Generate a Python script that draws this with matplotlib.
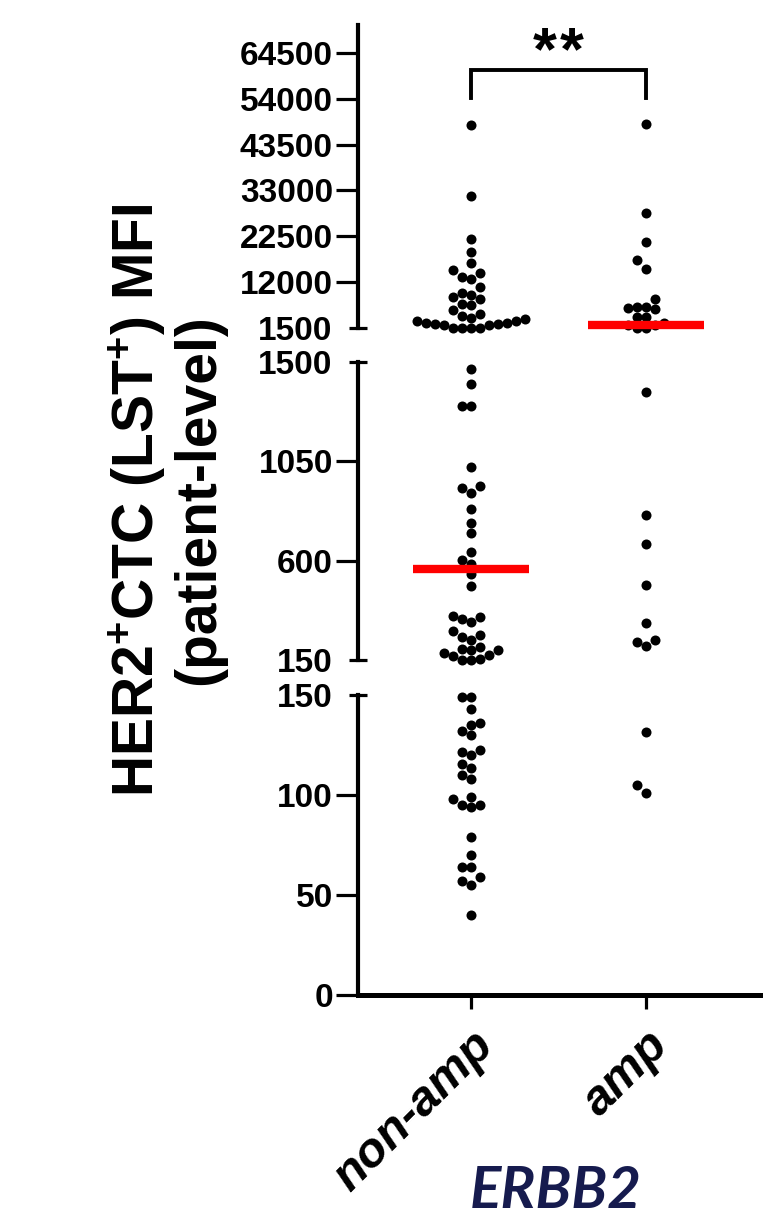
import numpy as np
import matplotlib
matplotlib.use("Agg")
import matplotlib.pyplot as plt
import matplotlib.transforms as mtrans

# ---------------- data ----------------
groups = ["non-amp", "amp"]

non_amp = [
    # upper segment (>1500)
    48000, 31700, 21900, 19000, 16500, 14700, 14200, 13200, 12700, 10800,
    9600, 9000, 8600, 8100, 7100, 6700, 5600, 4700, 4200, 3900, 3500, 3200,
    3100, 2700, 2600, 2500, 2350, 2250, 2100, 1600, 1580, 1560, 1540,
    # middle segment (150-1500)
    1470, 1400, 1300, 1300, 1025, 940, 928, 908, 833, 771, 724, 638, 602,
    585, 540, 485, 351, 346, 334, 322, 281, 263, 253, 242, 210, 198, 195,
    195, 183, 173, 170, 155, 152, 151,
    # lower segment (0-150)
    149, 149, 143, 136, 135, 132, 130, 122.5, 121.7, 120, 115.5, 113.5, 110,
    108, 99, 98, 95, 95, 94, 79, 70, 64, 64, 59, 57, 55, 40,
]

amp = [
    48200, 27900, 21100, 17100, 15000, 8070, 6380, 6380, 6010, 5780, 4090,
    3950, 2710, 2190, 2190, 1530, 1510,
    1365, 808, 677, 490, 318, 241, 230, 215,
    131.5, 105, 101,
]

top_ticks = [12000, 22500, 33000, 43500, 54000, 64500]
mid_ticks = [600, 1050]
bot_ticks = [0, 50, 100]
significance = "**"

# ---------------- layout ----------------
W, H = 775, 1219
plt.rcParams["font.family"] = ["Liberation Sans", "DejaVu Sans"]
plt.rcParams["font.weight"] = "bold"
plt.rcParams["mathtext.fontset"] = "custom"
plt.rcParams["mathtext.rm"] = "Liberation Sans:bold"
plt.rcParams["mathtext.bf"] = "Liberation Sans:bold"
plt.rcParams["mathtext.it"] = "Liberation Sans:bold:italic"

fig = plt.figure(figsize=(W / 100, H / 100), dpi=100)
fig.patch.set_facecolor("white")

AX_L, AX_R = 358, 760


def px_axes(top_px, bottom_px):
    return [AX_L / W, (H - bottom_px) / H, (AX_R - AX_L) / W, (bottom_px - top_px) / H]


ax_top = fig.add_axes(px_axes(25, 328))
ax_mid = fig.add_axes(px_axes(362, 660))
ax_bot = fig.add_axes(px_axes(695, 995))

top_lim = (1500, 1500 + (328 - 25) / (328 - 53) * (64500 - 1500))
segments = [
    (ax_top, top_lim, lambda v: v > 1500, top_ticks, [1500]),
    (ax_mid, (150, 1500), lambda v: 150 < v <= 1500, mid_ticks, [150, 1500]),
    (ax_bot, (0, 150), lambda v: v <= 150, bot_ticks, [150]),
]

XLIM = (-0.645, 1.65)
SPINE_W = 3.0
TICK_W = 2.3


def swarm_x(ax, xc, vals, step_px=9.0, min_dy=9.5):
    vals = np.asarray(vals, float)
    if len(vals) == 0:
        return vals
    pts = ax.transData.transform(np.column_stack([np.full(len(vals), xc), vals]))
    ys = pts[:, 1]
    order = np.argsort(ys)
    placed = []
    cols = np.zeros(len(vals))
    seq = [0]
    for k in range(1, 30):
        seq += [-k, k]
    for i in order:
        for k in seq:
            if all(not (c == k and abs(y - ys[i]) < min_dy) for c, y in placed):
                break
        placed.append((k, ys[i]))
        cols[i] = k
    xpx = pts[:, 0] + cols * step_px
    return ax.transData.inverted().transform(np.column_stack([xpx, ys]))[:, 0]


for ax, lim, sel, majors, minors in segments:
    ax.set_xlim(*XLIM)
    ax.set_ylim(*lim)
    ax.set_facecolor("none")
    for s in ["top", "right"]:
        ax.spines[s].set_visible(False)
    ax.spines["left"].set_linewidth(SPINE_W)
    if ax is not ax_bot:
        ax.spines["bottom"].set_visible(False)
        ax.tick_params(axis="x", bottom=False, labelbottom=False)
    else:
        ax.spines["bottom"].set_linewidth(SPINE_W + 0.6)
    ax.set_yticks(majors, labels=[str(t) for t in majors])
    ax.set_yticks(minors, labels=[str(t) for t in minors], minor=True)
    ax.tick_params(axis="y", which="major", direction="out", length=16,
                   width=TICK_W, labelsize=24, pad=2)
    ax.tick_params(axis="y", which="minor", direction="inout", length=13.5,
                   width=TICK_W, labelsize=24, pad=11.5)
    for lab in ax.get_yticklabels(which="both"):
        lab.set_fontweight("bold")

    for gi, data in enumerate([non_amp, amp]):
        vals = [v for v in data if sel(v)]
        xs = swarm_x(ax, gi, vals)
        ax.scatter(xs, vals, s=52, color="black", linewidths=0, zorder=3,
                   clip_on=False)
        med = float(np.median(data))
        if sel(med):
            ax.plot([gi - 0.33, gi + 0.33], [med, med], color="#FF0000", lw=6,
                    solid_capstyle="butt", zorder=4, clip_on=False)

# x axis
ax_bot.set_xticks([0, 1])
ax_bot.set_xticklabels(groups, rotation=45, ha="right", va="top",
                       rotation_mode="anchor", fontsize=35, fontweight="bold",
                       fontstyle="italic")
ax_bot.tick_params(axis="x", length=10, width=TICK_W, pad=10)

# y label
fig.text(166 / W, (H - 500) / H,
         "HER2$^{+}$CTC (LST$^{+}$) MFI\n(patient-level)",
         rotation=90, ha="center", va="center", fontsize=41, fontweight="bold",
         multialignment="center", linespacing=1.1)

# gene label
fig.text(556 / W, (H - 1192) / H, "ERBB2", fontsize=42, fontweight="bold",
         fontstyle="italic", family=["Lato", "DejaVu Sans"], color="#161B4E",
         ha="center", va="center")

# significance bracket
blend = mtrans.blended_transform_factory(ax_top.transData, ax_top.transAxes)
y_leg = (328 - 98) / (328 - 25)
y_bar = (328 - 70) / (328 - 25)
ax_top.plot([0, 0, 1, 1], [y_leg, y_bar, y_bar, y_leg], transform=blend,
            color="black", lw=2.8, clip_on=False, solid_joinstyle="miter")
# star glyphs spaced a little apart, centred over the bracket
n_star = len(significance)
star_gap = 0.155
for j, ch in enumerate(significance):
    xj = 0.5 + (j - (n_star - 1) / 2) * star_gap
    ax_top.text(xj, (328 - 54) / (328 - 25), ch, transform=blend,
                ha="center", va="center", fontsize=44, fontweight="bold")

fig.savefig("out.png", dpi=100, facecolor="white")
